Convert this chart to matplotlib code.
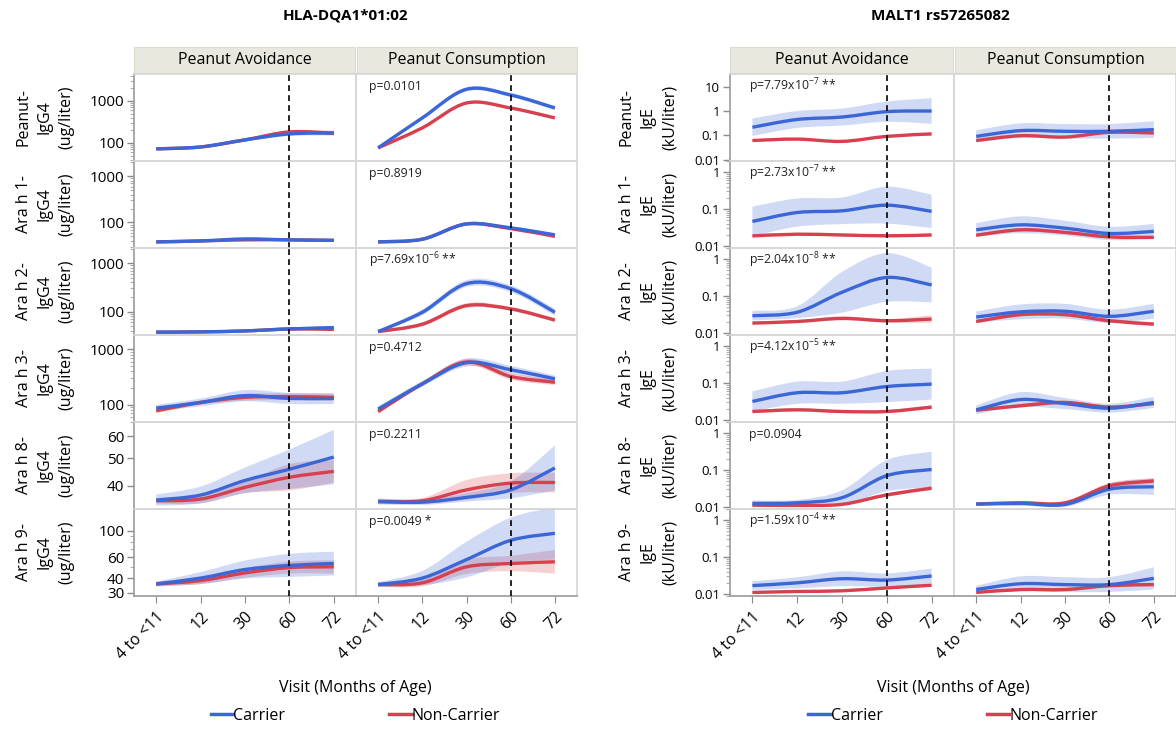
import numpy as np
import matplotlib
matplotlib.use("Agg")
import matplotlib.pyplot as plt
from matplotlib.path import Path
from matplotlib.patches import PathPatch
from matplotlib.lines import Line2D
from matplotlib.ticker import FixedLocator, NullFormatter, LogLocator

plt.rcParams['font.family'] = ['Open Sans', 'DejaVu Sans']
plt.rcParams['mathtext.default'] = 'regular'

visits = ["4 to <11", "12", "30", "60", "72"]
columns = ["Peanut Avoidance", "Peanut Consumption"]
legend_labels = ["Carrier", "Non-Carrier"]
BLUE = "#3b66d6"
RED = "#d7404e"

# ---- HLA-DQA1*01:02, IgG4 (ug/liter) ----
hla_title = "HLA-DQA1*01:02"
hla_rows = ["Peanut-\nIgG4\n(ug/liter)", "Ara h 1-\nIgG4\n(ug/liter)", "Ara h 2-\nIgG4\n(ug/liter)",
            "Ara h 3-\nIgG4\n(ug/liter)", "Ara h 8-\nIgG4\n(ug/liter)", "Ara h 9-\nIgG4\n(ug/liter)"]
hla_ylims = [(37, 4400), (28, 2150), (33, 2050), (49, 1800), (33, 67.3), (28.3, 152)]
hla_yticks = [[100, 1000], [100, 1000], [100, 1000], [100, 1000], [40, 50, 60], [30, 40, 60, 100]]
hla_pvals = ["p=0.0101", "p=0.8919", r"p=7.69x10$^{-6}$ **", "p=0.4712", "p=0.2211", "p=0.0049 *"]

# geometric means per visit, [row][column] -> (carrier, non-carrier)
hla_carrier = [
    [[72, 80, 118, 164, 172], [76, 394, 1900, 1390, 680]],
    [[38, 39.8, 44, 42, 41], [38, 43.4, 93, 76.5, 54]],
    [[37.8, 38.3, 40, 44, 47], [38.8, 97, 378, 297, 97]],
    [[87, 110, 146, 130, 130], [83.5, 238, 573, 427, 293]],
    [[35.5, 37.0, 41.7, 45.7, 50.5], [35.1, 34.9, 36.3, 38.6, 46.2]],
    [[35.7, 40, 47.2, 51.1, 53], [35.3, 40, 57.2, 83, 95]],
]
hla_noncarrier = [
    [[72, 80, 118, 183, 170], [76, 228, 895, 680, 394]],
    [[38, 39.8, 42, 42, 41], [38, 43.4, 93, 73.5, 50]],
    [[37.8, 38.3, 40, 44, 43], [38.8, 55, 133, 114, 67]],
    [[78, 110, 136, 140, 136], [75.5, 238, 588, 323, 254]],
    [[35.3, 35.8, 39.4, 42.8, 44.9], [35.1, 35.3, 38.6, 40.8, 41.0]],
    [[35.7, 38.1, 44.2, 49, 49.7], [35.3, 36.5, 49.7, 53, 54.8]],
]
# half-width of the confidence band, in decades
hla_carrier_ci = [
    [[0.03, 0.03, 0.04, 0.05, 0.06], [0.02, 0.05, 0.05, 0.05, 0.05]],
    [[0.02, 0.02, 0.03, 0.02, 0.02], [0.02, 0.03, 0.04, 0.03, 0.03]],
    [[0.02, 0.02, 0.02, 0.03, 0.03], [0.02, 0.06, 0.07, 0.07, 0.07]],
    [[0.06, 0.07, 0.1, 0.1, 0.1], [0.05, 0.05, 0.07, 0.07, 0.06]],
    [[0.02, 0.03, 0.046, 0.07, 0.097], [0.01, 0.01, 0.015, 0.03, 0.08]],
    [[0.02, 0.05, 0.075, 0.097, 0.1], [0.02, 0.06, 0.15, 0.19, 0.22]],
]
hla_noncarrier_ci = [
    [[0.02, 0.02, 0.03, 0.04, 0.05], [0.02, 0.03, 0.03, 0.03, 0.03]],
    [[0.02, 0.02, 0.02, 0.02, 0.02], [0.02, 0.02, 0.03, 0.02, 0.02]],
    [[0.02, 0.02, 0.02, 0.03, 0.03], [0.02, 0.04, 0.05, 0.04, 0.04]],
    [[0.04, 0.04, 0.06, 0.06, 0.06], [0.04, 0.04, 0.06, 0.06, 0.05]],
    [[0.01, 0.015, 0.02, 0.047, 0.04], [0.01, 0.01, 0.035, 0.035, 0.035]],
    [[0.02, 0.03, 0.04, 0.05, 0.056], [0.02, 0.03, 0.06, 0.065, 0.1]],
]

# ---- MALT1 rs57265082, IgE (kU/liter) ----
malt_title = "MALT1 rs57265082"
malt_rows = ["Peanut-\nIgE\n(kU/liter)", "Ara h 1-\nIgE\n(kU/liter)", "Ara h 2-\nIgE\n(kU/liter)",
             "Ara h 3-\nIgE\n(kU/liter)", "Ara h 8-\nIgE\n(kU/liter)", "Ara h 9-\nIgE\n(kU/liter)"]
malt_ylims = [(0.0088, 35), (0.0089, 2), (0.0089, 2), (0.0089, 2), (0.0089, 2), (0.0089, 2)]
malt_yticks = [[0.01, 0.1, 1, 10], [0.01, 0.1, 1], [0.01, 0.1, 1],
               [0.01, 0.1, 1], [0.01, 0.1, 1], [0.01, 0.1, 1]]
malt_pvals = [r"p=7.79x10$^{-7}$ **", r"p=2.73x10$^{-7}$ **", r"p=2.04x10$^{-8}$ **",
              r"p=4.12x10$^{-5}$ **", "p=0.0904", r"p=1.59x10$^{-4}$ **"]

malt_carrier = [
    [[0.219, 0.46, 0.58, 0.97, 1.03], [0.092, 0.159, 0.149, 0.149, 0.175]],
    [[0.0465, 0.081, 0.090, 0.128, 0.087], [0.0276, 0.0376, 0.0306, 0.022, 0.025]],
    [[0.0296, 0.0367, 0.127, 0.32, 0.20], [0.0272, 0.0376, 0.039, 0.0284, 0.039]],
    [[0.032, 0.055, 0.055, 0.081, 0.094], [0.019, 0.036, 0.028, 0.021, 0.030]],
    [[0.0126, 0.0131, 0.018, 0.071, 0.104], [0.0121, 0.0126, 0.0118, 0.0306, 0.0355]],
    [[0.0170, 0.0202, 0.0261, 0.0240, 0.0310], [0.0133, 0.0191, 0.0181, 0.0181, 0.0267]],
]
malt_noncarrier = [
    [[0.062, 0.071, 0.057, 0.092, 0.116], [0.062, 0.098, 0.086, 0.135, 0.127]],
    [[0.0189, 0.021, 0.020, 0.019, 0.020], [0.0197, 0.0276, 0.0235, 0.0178, 0.0172]],
    [[0.0187, 0.0206, 0.025, 0.0216, 0.024], [0.0206, 0.0316, 0.0316, 0.0216, 0.0175]],
    [[0.0171, 0.019, 0.0171, 0.0171, 0.0225], [0.0185, 0.0245, 0.030, 0.0225, 0.028]],
    [[0.0113, 0.0111, 0.0119, 0.0214, 0.0325], [0.0121, 0.0131, 0.0131, 0.0377, 0.051]],
    [[0.0111, 0.0118, 0.0123, 0.0147, 0.0174], [0.0111, 0.0133, 0.0133, 0.017, 0.0181]],
]
malt_carrier_ci = [
    [[0.36, 0.35, 0.35, 0.42, 0.53], [0.25, 0.3, 0.3, 0.3, 0.35]],
    [[0.4, 0.38, 0.36, 0.5, 0.45], [0.18, 0.23, 0.2, 0.18, 0.2]],
    [[0.13, 0.16, 0.55, 0.66, 0.47], [0.15, 0.2, 0.2, 0.18, 0.2]],
    [[0.27, 0.3, 0.3, 0.42, 0.42], [0.12, 0.2, 0.15, 0.12, 0.15]],
    [[0.08, 0.08, 0.2, 0.42, 0.48], [0.05, 0.06, 0.06, 0.15, 0.22]],
    [[0.12, 0.15, 0.2, 0.18, 0.2], [0.1, 0.2, 0.2, 0.2, 0.3]],
]
malt_noncarrier_ci = [
    [[0.04, 0.04, 0.05, 0.05, 0.05], [0.04, 0.04, 0.04, 0.05, 0.05]],
    [[0.04, 0.04, 0.04, 0.04, 0.04], [0.04, 0.04, 0.04, 0.04, 0.04]],
    [[0.04, 0.04, 0.05, 0.05, 0.1], [0.04, 0.05, 0.05, 0.05, 0.05]],
    [[0.04, 0.04, 0.04, 0.04, 0.05], [0.04, 0.05, 0.05, 0.05, 0.05]],
    [[0.03, 0.03, 0.03, 0.05, 0.05], [0.03, 0.04, 0.04, 0.08, 0.08]],
    [[0.03, 0.03, 0.03, 0.04, 0.04], [0.03, 0.04, 0.04, 0.05, 0.05]],
]

W, H = 1176, 731
fig = plt.figure(figsize=(W / 100, H / 100), dpi=100)
row_edges = [74, 161, 248, 335, 422, 509, 596]


def px_axes(x0, x1, y0, y1):
    return fig.add_axes([x0 / W, 1 - y1 / H, (x1 - x0) / W, (y1 - y0) / H])


def spline_verts(ly):
    # Catmull-Rom through the visit means in log space, as cubic Bezier segments
    pts = np.column_stack([np.arange(len(ly), dtype=float), ly])
    ext = np.vstack([pts[0], pts, pts[-1]])
    verts = [pts[0]]
    for i in range(len(pts) - 1):
        p0, p1, p2, p3 = ext[i], ext[i + 1], ext[i + 2], ext[i + 3]
        verts += [p1 + (p2 - p0) / 6, p2 - (p3 - p1) / 6, p2]
    return np.array(verts)


def curve(ax, vals, ci, color):
    lv = np.log10(vals)
    hw = np.array(ci)
    up = spline_verts(lv + hw)
    lo = spline_verts(lv - hw)[::-1]
    n = len(up)
    band = np.vstack([up, lo, up[:1]])
    band[:, 1] = 10 ** band[:, 1]
    codes = ([Path.MOVETO] + [Path.CURVE4] * (n - 1) + [Path.LINETO]
             + [Path.CURVE4] * (n - 1) + [Path.CLOSEPOLY])
    ax.add_patch(PathPatch(Path(band, codes), facecolor=color, alpha=0.24,
                           edgecolor="none", zorder=2))
    mid = spline_verts(lv)
    mid[:, 1] = 10 ** mid[:, 1]
    ax.add_patch(PathPatch(Path(mid, [Path.MOVETO] + [Path.CURVE4] * (n - 1)),
                           fill=False, edgecolor=color, lw=2.4, zorder=3,
                           capstyle="butt"))


def draw_group(title, rows, ylims, yticks, pvals, carrier, noncarrier, c_ci, n_ci,
               col_x, title_x, ylab_x, pcol, px_off, tick_fs):
    fig.text(title_x / W, 1 - 16 / H, title, ha="center", va="center",
             fontsize=11, fontweight="bold")
    # strip headers sit slightly apart, panels share their dividing line
    x_left, x_mid, x_right = col_x
    for c, (x0, x1) in enumerate([(x_left, x_mid - 1), (x_mid + 1, x_right)]):
        sax = px_axes(x0, x1, 47, 73)
        sax.set_xticks([]); sax.set_yticks([])
        sax.set_facecolor("#e9e8de")
        for s in sax.spines.values():
            s.set_color("#dcdbd0")
        sax.text(0.5, 0.5, columns[c], ha="center", va="center", fontsize=11.5,
                 transform=sax.transAxes)
    for r in range(6):
        y0, y1 = row_edges[r], row_edges[r + 1]
        fig.text(ylab_x / W, 1 - (y0 + y1) / 2 / H, rows[r], rotation=90,
                 ha="center", va="center", multialignment="center",
                 fontsize=11.5, linespacing=1.45)
        for c, (x0, x1) in enumerate([(x_left, x_mid), (x_mid, x_right)]):
            ax = px_axes(x0, x1, y0, y1)
            ax.set_facecolor("none")
            ax.set_yscale("log")
            ax.set_xlim(-0.5, 4.5)
            ax.set_ylim(*ylims[r])
            for s in ax.spines.values():
                s.set_color("#d6d6d6")
                s.set_linewidth(1.2)
            curve(ax, noncarrier[r][c], n_ci[r][c], RED)
            curve(ax, carrier[r][c], c_ci[r][c], BLUE)
            ax.axvline(3, color="black", ls=(0, (3.5, 2.5)), lw=1.2, zorder=4)
            if c == pcol:
                ax.text(px_off, 0.86, pvals[r], transform=ax.transAxes, fontsize=8.8,
                        ha="left", va="center", color="#222222")
            if c == 0:
                ax.spines["left"].set_color("#9a9a9a")
                ax.yaxis.set_major_locator(FixedLocator(yticks[r]))
                ax.yaxis.set_minor_locator(LogLocator(base=10, subs=np.arange(2, 10)))
                ax.yaxis.set_minor_formatter(NullFormatter())
                ax.set_yticklabels([("%g" % t) for t in yticks[r]], fontsize=tick_fs)
                ax.tick_params(axis="y", which="major", length=5, width=1,
                               color="#8a8a8a", pad=2)
                ax.tick_params(axis="y", which="minor", length=3, width=0.8,
                               color="#b0b0b0")
            else:
                ax.tick_params(axis="y", which="both", left=False, labelleft=False)
            ax.set_xticks(range(5))
            if r == 5:
                ax.spines["bottom"].set_color("#9a9a9a")
                ax.set_xticklabels(visits, rotation=45, ha="right",
                                   rotation_mode="anchor", fontsize=11.5)
                ax.tick_params(axis="x", length=5, color="#8a8a8a", pad=4)
            else:
                ax.tick_params(axis="x", bottom=False, labelbottom=False)
    xl = (x_left + x_right) / 2
    fig.text(xl / W, 1 - 688 / H, "Visit (Months of Age)", ha="center",
             va="center", fontsize=11.5)
    handles = [Line2D([], [], color=BLUE, lw=2.5), Line2D([], [], color=RED, lw=2.5)]
    fig.legend(handles, legend_labels, loc="center", bbox_to_anchor=(xl / W, 1 - 716 / H),
               ncol=2, frameon=False, handlelength=1.4, handletextpad=0.0,
               columnspacing=6.5, fontsize=11.5)


draw_group(hla_title, hla_rows, hla_ylims, hla_yticks, hla_pvals,
           hla_carrier, hla_noncarrier, hla_carrier_ci, hla_noncarrier_ci,
           (134, 356, 577), 345, 45, 1, 0.06, 11)
draw_group(malt_title, malt_rows, malt_ylims, malt_yticks, malt_pvals,
           malt_carrier, malt_noncarrier, malt_carrier_ci, malt_noncarrier_ci,
           (730, 954, 1176), 940, 648, 0, 0.085, 9.5)

fig.savefig("out.png", dpi=100, facecolor="white")
